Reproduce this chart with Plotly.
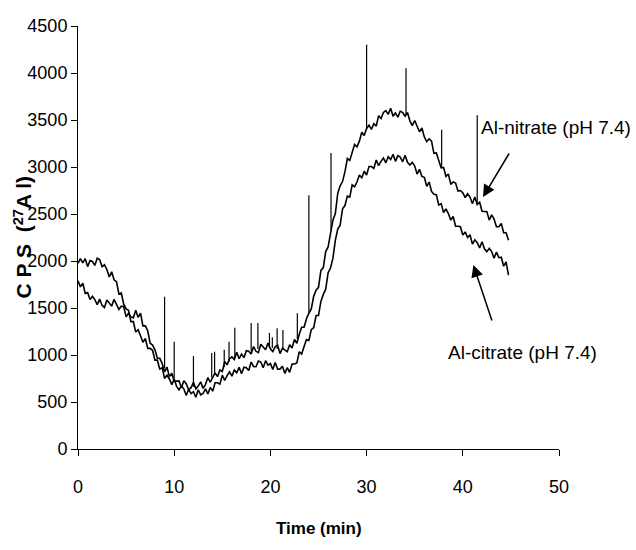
import plotly.graph_objects as go

# ---- data (CPS of 27Al vs time, 0.25 min sampling) ----
STEP_MIN = 0.25

nitrate_cps = [
    1790, 1725, 1765, 1655, 1665, 1590, 1625, 1590,
    1535, 1595, 1530, 1505, 1585, 1548, 1520, 1592,
    1530, 1485, 1520, 1515, 1405, 1445, 1405, 1395,
    1475, 1400, 1445, 1310, 1310, 1255, 1125, 1105,
    1055, 965, 965, 910, 820, 870, 770, 805,
    720, 725, 725, 652, 725, 695, 630, 652,
    710, 640, 670, 715, 645, 685, 760, 710,
    770, 810, 770, 840, 825, 930, 895, 960,
    980, 953, 1030, 960, 1010, 972, 1045, 1040,
    1010, 1090, 1040, 1025, 1115, 1080, 1055, 1128,
    1065, 1037, 1090, 1105, 1015, 1073, 1050, 1035,
    1110, 1075, 1165, 1125, 1220, 1295, 1295, 1385,
    1445, 1490, 1625, 1690, 1720, 1900, 1930, 2100,
    2150, 2295, 2435, 2505, 2720, 2800, 2845, 2950,
    3090, 3070, 3150, 3240, 3215, 3275, 3370, 3335,
    3410, 3445, 3400, 3460, 3435, 3545, 3515, 3580,
    3600, 3560, 3625, 3540, 3575, 3530, 3595, 3580,
    3540, 3580, 3490, 3440, 3495, 3430, 3375, 3415,
    3320, 3270, 3300, 3275, 3145, 3150, 3075, 2990,
    2995, 2900, 2925, 2815, 2840, 2830, 2745, 2750,
    2725, 2675, 2715, 2680, 2610, 2680, 2600, 2625,
    2530, 2530, 2525, 2435, 2490, 2445, 2365, 2365,
    2400, 2300, 2300, 2220,
]

citrate_cps = [
    1975, 2025, 1980, 2025, 1940, 2005, 1995, 1953,
    2030, 2015, 1940, 1960, 1910, 1830, 1885, 1800,
    1780, 1650, 1660, 1540, 1490, 1475, 1355, 1355,
    1245, 1270, 1205, 1135, 1175, 1070, 1070, 1050,
    945, 945, 850, 865, 750, 785, 745, 685,
    745, 665, 630, 670, 640, 570, 635, 590,
    610, 550, 630, 575, 590, 640, 585, 655,
    615, 705, 705, 690, 785, 730, 780, 820,
    775, 840, 810, 870, 800, 870, 865, 835,
    925, 878, 875, 935, 925, 865, 940, 893,
    910, 845, 920, 850, 850, 880, 805, 865,
    815, 905, 905, 915, 1035, 1010, 1090, 1165,
    1155, 1270, 1290, 1420, 1420, 1570, 1645, 1700,
    1875, 1925, 2030, 2220, 2340, 2380, 2555, 2590,
    2690, 2680, 2810, 2790, 2840, 2915, 2885, 2955,
    2915, 3005, 3005, 2985, 3075, 3015, 3060, 3095,
    3045, 3110, 3080, 3135, 3060, 3120, 3105, 3055,
    3125, 3050, 3020, 3050, 3010, 2925, 2975, 2900,
    2890, 2795, 2840, 2740, 2710, 2705, 2595, 2610,
    2515, 2555, 2505, 2435, 2475, 2370, 2370, 2365,
    2275, 2310, 2250, 2280, 2180, 2225, 2195, 2140,
    2205, 2130, 2100, 2135, 2100, 2030, 2095, 2035,
    2040, 1945, 1990, 1850,
]

# transient spikes on the Al-nitrate trace
spike_time = [9.0, 10.0, 12.0, 13.9, 14.2, 15.2, 15.7, 16.3, 18.0, 18.7, 19.9,
              20.2, 20.7, 21.3, 22.8, 24.0, 26.3, 30.0, 34.1, 37.8, 41.5]
spike_base = [860, 750, 660, 760, 790, 870, 925, 970, 1040, 1065, 1080,
              1075, 1065, 1058, 1170, 1450, 2330, 3400, 3560, 3000, 2620]
spike_peak = [1620, 1140, 990, 1020, 1035, 1055, 1140, 1290, 1340, 1340, 1235,
              1190, 1285, 1265, 1445, 2700, 3150, 4300, 4050, 3395, 3550]

x_ticks = [0, 10, 20, 30, 40, 50]
y_ticks = [0, 500, 1000, 1500, 2000, 2500, 3000, 3500, 4000, 4500]

time_nitrate = [i * STEP_MIN for i in range(len(nitrate_cps))]
time_citrate = [i * STEP_MIN for i in range(len(citrate_cps))]

sx, sy = [], []
for t, b, p in zip(spike_time, spike_base, spike_peak):
    sx += [t, t, None]
    sy += [b, p, None]

FONT = "Liberation Sans, Arial, sans-serif"

fig = go.Figure()
fig.add_trace(go.Scatter(x=time_nitrate, y=nitrate_cps, mode="lines",
                         line=dict(color="black", width=1.6), name="Al-nitrate (pH 7.4)"))
fig.add_trace(go.Scatter(x=time_citrate, y=citrate_cps, mode="lines",
                         line=dict(color="black", width=1.6), name="Al-citrate (pH 7.4)"))
fig.add_trace(go.Scatter(x=sx, y=sy, mode="lines",
                         line=dict(color="black", width=1.2), name="spikes"))

fig.update_layout(
    width=636, height=550,
    margin=dict(l=78, r=77, t=26, b=101),
    paper_bgcolor="white", plot_bgcolor="white",
    showlegend=False,
    font=dict(family=FONT, color="black", size=18),
)
fig.update_xaxes(range=[0, 50], tickvals=x_ticks, showgrid=False, zeroline=False,
                 showline=True, linecolor="black", linewidth=1,
                 ticks="outside", ticklen=6, tickcolor="black", tickwidth=1,
                 ticklabelstandoff=15, tickfont=dict(family=FONT, size=18))
fig.update_yaxes(range=[0, 4500], tickvals=y_ticks, showgrid=False, zeroline=False,
                 showline=True, linecolor="black", linewidth=1,
                 ticks="outside", ticklen=6, tickcolor="black", tickwidth=1,
                 tickfont=dict(family=FONT, size=18))

# axis titles
fig.add_annotation(text="<b>Time (min)</b>", xref="paper", yref="paper",
                   x=0.5, y=-0.187, showarrow=False, xanchor="center", yanchor="middle",
                   font=dict(family=FONT, size=17))
fig.add_annotation(text="<b>C P S  (<sup>27</sup>A l)</b>", xref="paper", yref="paper",
                   x=-0.1164, y=0.5, showarrow=False, textangle=-90,
                   xanchor="center", yanchor="middle",
                   font=dict(family=FONT, size=21))

# labels and arrows
fig.add_annotation(text="Al-nitrate (pH 7.4)", x=1.154, y=0.761, xref="paper", yref="paper",
                   showarrow=False, xanchor="right", yanchor="middle",
                   font=dict(family=FONT, size=19))
fig.add_annotation(text="Al-citrate (pH 7.4)", x=0.925, y=0.229, xref="paper", yref="paper",
                   showarrow=False, xanchor="center", yanchor="middle",
                   font=dict(family=FONT, size=19))
fig.add_annotation(text="", x=42.1, y=2681, xref="x", yref="y",
                   showarrow=True, ax=27, ay=-45, axref="pixel", ayref="pixel",
                   arrowhead=2, arrowsize=1.6, arrowwidth=1.5, arrowcolor="black")
fig.add_annotation(text="", x=41.1, y=1957, xref="x", yref="y",
                   showarrow=True, ax=19, ay=57, axref="pixel", ayref="pixel",
                   arrowhead=2, arrowsize=1.6, arrowwidth=1.5, arrowcolor="black")

fig.write_html("out.html")
